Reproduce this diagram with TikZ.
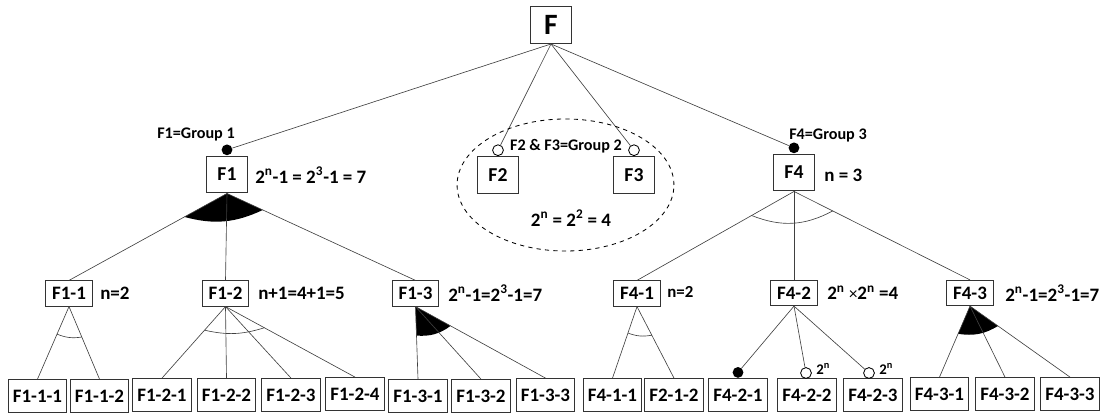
\documentclass[tikz,border=0pt]{standalone}
\usepackage{fontspec}
\setmainfont{Carlito}
\usetikzlibrary{calc}

% boxes, labels and connectors
\tikzset{
  box/.style={draw=black!80, line width=0.8pt, font=\bfseries\fontsize{14}{16}\selectfont, minimum width=1.03cm, minimum height=0.92cm, inner sep=0pt},
  midbox/.style={draw=black!80, line width=0.7pt, font=\bfseries\fontsize{13.5}{15}\selectfont, minimum height=0.63cm, inner xsep=4.5pt, inner ysep=0pt},
  leaf/.style={draw=black!80, line width=0.7pt, font=\bfseries\fontsize{13.5}{15}\selectfont, minimum width=1.47cm, minimum height=0.82cm, inner sep=0pt},
  lbl/.style={font=\bfseries\fontsize{13.5}{15}\selectfont, inner sep=0pt},
  grp/.style={font=\bfseries\fontsize{11.5}{13}\selectfont, inner sep=0pt},
  small/.style={font=\bfseries\fontsize{10.5}{12}\selectfont, inner sep=0pt},
  link/.style={draw=black!75, line width=0.45pt},
  mand/.style={circle, fill=black, minimum size=0.27cm, inner sep=0pt},
  opt/.style={circle, draw=black, fill=white, line width=0.6pt, minimum size=0.27cm, inner sep=0pt},
}

\begin{document}
\begin{tikzpicture}[x=0.025cm, y=-0.025cm]
\useasboundingbox (0,0) rectangle (1101,413);

% Root
\node[box, font=\bfseries\fontsize{21}{24}\selectfont] (F) at (551,25) {F};

% First level
\node[box] (F1) at (227,174.5) {F1};
\node[box] (F2) at (498,175) {F2};
\node[box] (F3) at (634,175) {F3};
\node[box] (F4) at (794,172.5) {F4};
\node[mand, anchor=south] (m1) at (F1.north) {};
\node[opt, anchor=south] (o2) at (F2.north) {};
\node[opt, anchor=south] (o3) at (F3.north) {};
\node[mand, anchor=south] (m4) at (F4.north) {};
\draw[link] (F.south) -- (m1);
\draw[link] (F.south) -- (o2);
\draw[link] (F.south) -- (o3);
\draw[link] (F.south) -- (m4);

% Group texts
\node[grp] (g1) at (196,134) {F1=Group 1};
\node[grp] (g2) at (566,146) {F2 \& F3=Group 2};
\node[grp] (g4) at (828,135) {F4=Group 3};
\node[lbl, anchor=west] (t1) at (255,175) {2\textsuperscript{n}-1 = 2\textsuperscript{3}-1 = 7};
\node[lbl] (t23) at (571,218) {2\textsuperscript{n} = 2\textsuperscript{2} = 4};
\node[lbl, anchor=west] (t4) at (824,175) {n = 3};
\draw[dashed, line width=0.6pt] (565.5,185) ellipse [x radius=2.71cm, y radius=1.65cm];

% Second level
\node[midbox] (F11) at (69,293.5) {F1-1};
\node[midbox] (F12) at (225.5,293.5) {F1-2};
\node[midbox] (F13) at (415.5,293.5) {F1-3};
\node[midbox] (F41) at (637,293.5) {F4-1};
\node[midbox] (F42) at (794,293) {F4-2};
\node[midbox] (F43) at (970,293) {F4-3};
\node[lbl, anchor=west] (t11) at (100,293) {n=2};
\node[lbl, anchor=west] (t12) at (258,293) {n+1=4+1=5};
\node[lbl, anchor=west] (t13) at (448,293) {2\textsuperscript{n}-1=2\textsuperscript{3}-1=7};
\node[lbl, anchor=west, font=\bfseries\fontsize{12}{14}\selectfont] (t41) at (667,292) {n=2};
\node[lbl, anchor=west] (t42) at (827,293) {2\textsuperscript{n} {\mdseries\fontsize{12}{14}\selectfont ×}2\textsuperscript{n} =4};
\node[lbl, anchor=west] (t43) at (1005,293) {2\textsuperscript{n}-1=2\textsuperscript{3}-1=7};

% Leaves
\node[leaf] (F111) at (37.5,396) {F1-1-1};
\node[leaf] (F112) at (99.5,396) {F1-1-2};
\node[leaf] (F121) at (162,395) {F1-2-1};
\node[leaf] (F122) at (226.5,395) {F1-2-2};
\node[leaf] (F123) at (291,395) {F1-2-3};
\node[leaf] (F124) at (355,394) {F1-2-4};
\node[leaf] (F131) at (418,396) {F1-3-1};
\node[leaf] (F132) at (481,396) {F1-3-2};
\node[leaf] (F133) at (545.5,395) {F1-3-3};
\node[leaf] (F411) at (612.5,395) {F4-1-1};
\node[leaf] (F412) at (674,395) {F2-1-2};
\node[leaf] (F421) at (738,395) {F4-2-1};
\node[leaf] (F422) at (807,395) {F4-2-2};
\node[leaf] (F423) at (873,395) {F4-2-3};
\node[leaf] (F431) at (939.5,394) {F4-3-1};
\node[leaf] (F432) at (1005,394) {F4-3-2};
\node[leaf] (F433) at (1070,394) {F4-3-3};

% Filled groups (or)
\coordinate (a1l) at ($(F1.south)!0.27!(F11.north)$);
\coordinate (a1r) at ($(F1.south)!0.19!(F13.north)$);
\fill (F1.south) -- (a1l) to[bend right=20] (a1r) -- cycle;
\coordinate (a13l) at ($(F13.south)!0.40!(F131.north)$);
\coordinate (a13r) at ($(F13.south)!0.27!(F133.north)$);
\fill (F13.south) -- (a13l) to[bend right=20] (a13r) -- cycle;
\coordinate (a43l) at ($(F43.south)!0.39!(F431.north)$);
\coordinate (a43r) at ($(F43.south)!0.28!(F433.north)$);
\fill (F43.south) -- (a43l) to[bend right=20] (a43r) -- cycle;

% Open arcs (alternative)
\coordinate (a4l) at ($(F4.south)!0.27!(F41.north)$);
\coordinate (a4r) at ($(F4.south)!0.22!(F43.north)$);
\draw[link] (a4l) to[bend right=25] (a4r);
\coordinate (a11l) at ($(F11.south)!0.38!(F111.north)$);
\coordinate (a11r) at ($(F11.south)!0.42!(F112.north)$);
\draw[link] (a11l) to[bend right=15] (a11r);
\coordinate (a12l) at ($(F12.south)!0.33!(F121.north)$);
\coordinate (a12r) at ($(F12.south)!0.30!(F124.north)$);
\draw[link] (a12l) to[bend right=15] (a12r);
\coordinate (a41l) at ($(F41.south)!0.37!(F411.north)$);
\coordinate (a41r) at ($(F41.south)!0.40!(F412.north)$);
\draw[link] (a41l) to[bend right=15] (a41r);

% Connectors
\draw[link] (F1.south) -- (F11.north);
\draw[link] (F1.south) -- (F12.north);
\draw[link] (F1.south) -- (F13.north);
\draw[link] (F4.south) -- (F41.north);
\draw[link] (F4.south) -- (F42.north);
\draw[link] (F4.south) -- (F43.north);
\draw[link] (F11.south) -- (F111.north);
\draw[link] (F11.south) -- (F112.north);
\draw[link] (F12.south) -- (F121.north);
\draw[link] (F12.south) -- (F122.north);
\draw[link] (F12.south) -- (F123.north);
\draw[link] (F12.south) -- (F124.north);
\draw[link] (F13.south) -- (F131.north);
\draw[link] (F13.south) -- (F132.north);
\draw[link] (F13.south) -- (F133.north);
\draw[link] (F41.south) -- (F411.north);
\draw[link] (F41.south) -- (F412.north);
\draw[link] (F43.south) -- (F431.north);
\draw[link] (F43.south) -- (F432.north);
\draw[link] (F43.south) -- (F433.north);

% F4-2 children with own markers
\node[mand, anchor=south] (m421) at (F421.north) {};
\node[opt] (o422) at (806,373) {};
\node[opt] (o423) at (869,373) {};
\draw[link] (F42.south) -- (m421);
\draw[link] (F42.south) -- (o422);
\draw[link] (F42.south) -- (o423);
\node[small, anchor=west] (e422) at (816,369) {2\textsuperscript{n}};
\node[small, anchor=west] (e423) at (879,369) {2\textsuperscript{n}};
\end{tikzpicture}
\end{document}
